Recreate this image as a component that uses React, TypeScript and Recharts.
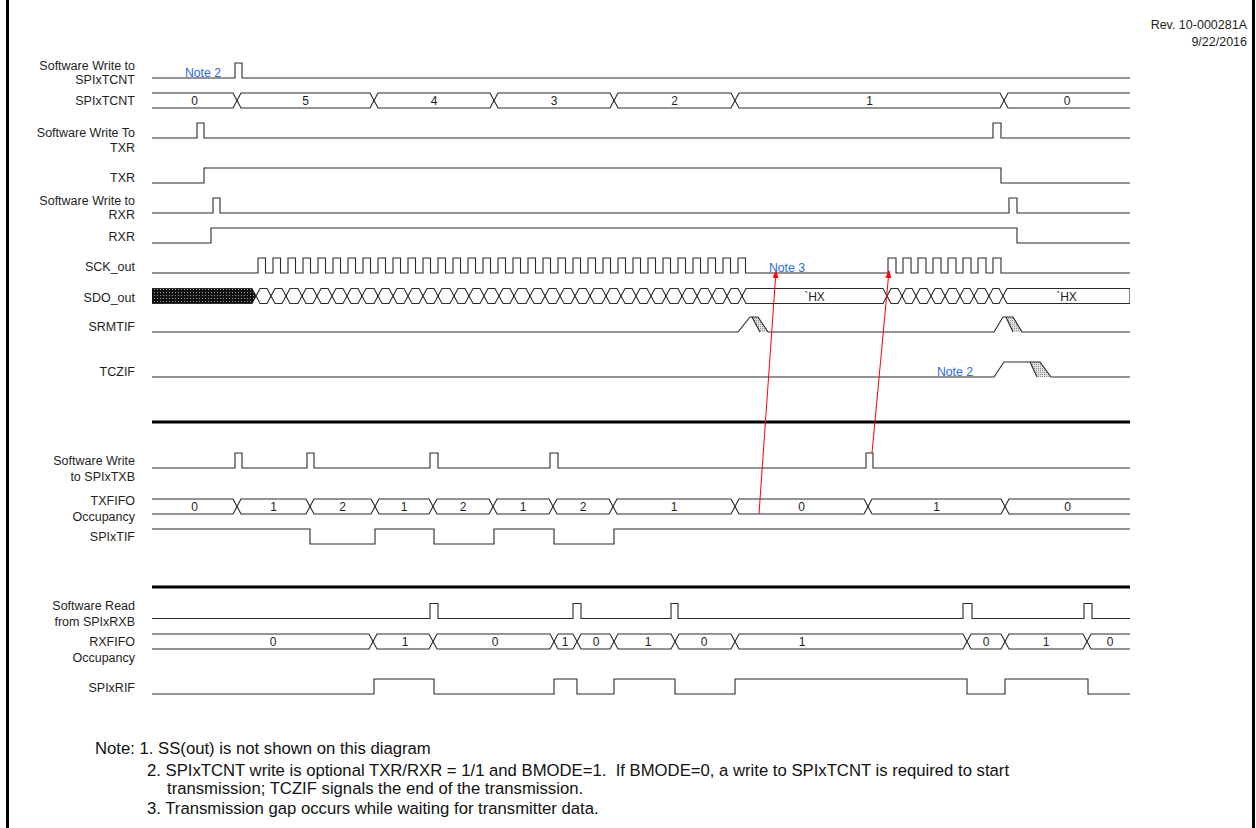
import React from "react";
import { ComposedChart, Line, Area, Scatter, XAxis, YAxis, ReferenceLine } from "recharts";

// time axis: 0 .. END (waveform window)
const END = 978;

// ---- upper panel: level changes [time, level] ----
const wrTcntLevels = [[0, 0], [83, 1], [90, 0]];
const tcntEdges = [85, 222, 342, 462, 583, 852];
const tcntValues = ["0", "5", "4", "3", "2", "1", "0"];
const wrTxrLevels = [[0, 0], [45, 1], [52, 0], [841, 1], [849, 0]];
const txrLevels = [[0, 0], [52, 1], [849, 0]];
const wrRxrLevels = [[0, 0], [61, 1], [68, 0], [857, 1], [865, 0]];
const rxrLevels = [[0, 0], [59, 1], [865, 0]];
const sckPulses = [
  [106, 113.5], [121, 128.5], [136, 143.5], [151, 158.5], [166, 173.5], [181, 188.5],
  [196, 203.5], [211, 218.5], [226, 233.5], [241, 248.5], [256, 263.5], [271, 278.5],
  [286, 293.5], [301, 308.5], [316, 323.5], [331, 338.5], [346, 353.5], [361, 368.5],
  [376, 383.5], [391, 398.5], [406, 413.5], [421, 428.5], [436, 443.5], [451, 458.5],
  [466, 473.5], [481, 488.5], [496, 503.5], [511, 518.5], [526, 533.5], [541, 548.5],
  [556, 563.5], [571, 578.5], [586, 593.5],
  [736, 744], [751, 759], [766, 774], [781, 789], [796, 804], [811, 819], [826, 834], [841, 849],
];
const sdoEdges = [
  104, 119, 134, 150, 165, 180, 195, 210, 226, 241, 256, 271, 286, 302, 317, 332, 347,
  362, 378, 393, 408, 423, 438, 454, 469, 484, 499, 514, 530, 545, 560, 575, 590,
  735, 750, 764, 779, 793, 808, 822, 837, 851,
];
const sdoIdle = [[590, 735], [851, END]];
const sdoIdleText = "`HX";
const srmtifFlags = [
  { rise: [586, 598], fall: [606, 616], hatch: [600, 608] },
  { rise: [842, 851], fall: [861, 870], hatch: [854, 861] },
];
const tczifFlags = [{ rise: [842, 852], fall: [888, 899], hatch: [878, 885] }];

// ---- TX FIFO panel ----
const wrTxbLevels = [[0, 0], [83, 1], [90, 0], [155, 1], [162, 0], [278, 1], [286, 0], [398, 1], [406, 0], [714, 1], [721, 0]];
const txfifoEdges = [85, 158, 223, 281, 341, 401, 461, 583, 716, 853];
const txfifoValues = ["0", "1", "2", "1", "2", "1", "2", "1", "0", "1", "0"];
const spixtifLevels = [[0, 1], [158, 0], [223, 1], [282, 0], [342, 1], [402, 0], [462, 1]];

// ---- RX FIFO panel ----
const rdRxbLevels = [[0, 0], [278, 1], [286, 0], [421, 1], [429, 0], [519, 1], [526, 0], [811, 1], [820, 0], [932, 1], [940, 0]];
const rxfifoEdges = [221, 281, 402, 425, 462, 523, 583, 815, 853, 935];
const rxfifoValues = ["0", "1", "0", "1", "0", "1", "0", "1", "0", "1", "0"];
const rxfifoLabelTimes = [121, 253, 343, 413, 444, 496, 552, 650, 834, 894, 958];
const spixrifLevels = [[0, 0], [222, 1], [282, 0], [402, 1], [425, 0], [462, 1], [523, 0], [583, 1], [815, 0], [853, 1], [936, 0]];

// arrows (causality) [from, to] as [time, row y]
const arrows = [
  [[607, 514], [624, 271]],
  [[720, 453], [737, 271]],
];

// ---- layout ----
const AMP = 15;
const HALF = 7.5;
const D = 4;
const rows = {
  wrTcnt: 78, tcnt: 100.5, wrTxr: 138, txr: 183, wrRxr: 213, rxr: 243, sck: 273, sdo: 296,
  srmtif: 332, tczif: 377, wrTxb: 468, txfifo: 506.5, spixtif: 544, rdRxb: 618.5, rxfifo: 641.5, spixrif: 694,
};
const rowLabels = [
  { lines: ["Software Write to", "SPIxTCNT"], ly: 65, gap: 14.5 },
  { lines: ["SPIxTCNT"], ly: 100.5, gap: 0 },
  { lines: ["Software Write To", "TXR"], ly: 132.5, gap: 15 },
  { lines: ["TXR"], ly: 177, gap: 0 },
  { lines: ["Software Write to", "RXR"], ly: 200, gap: 14.5 },
  { lines: ["RXR"], ly: 236, gap: 0 },
  { lines: ["SCK_out"], ly: 266.5, gap: 0 },
  { lines: ["SDO_out"], ly: 297, gap: 0 },
  { lines: ["SRMTIF"], ly: 326.5, gap: 0 },
  { lines: ["TCZIF"], ly: 371.5, gap: 0 },
  { lines: ["Software Write", "to SPIxTXB"], ly: 460.5, gap: 16 },
  { lines: ["TXFIFO", "Occupancy"], ly: 500.5, gap: 15.5 },
  { lines: ["SPIxTIF"], ly: 536, gap: 0 },
  { lines: ["Software Read", "from SPIxRXB"], ly: 605, gap: 16 },
  { lines: ["RXFIFO", "Occupancy"], ly: 641.5, gap: 16 },
  { lines: ["SPIxRIF"], ly: 687.5, gap: 0 },
];
const notes = [
  { t: 51, y: 73, label: "Note 2" },
  { t: 635, y: 268, label: "Note 3" },
  { t: 803, y: 372, label: "Note 2" },
];
const separators = [422, 587];

const FONT = "'Liberation Sans', Arial, Helvetica, sans-serif";
const INK = "#2a2a2a";

type Pt = { t: number; y: number };

const levelLine = (levels: number[][], base: number): Pt[] => {
  const pts = levels.map(([t, l]) => ({ t, y: base - l * AMP }));
  pts.push({ t: END, y: pts[pts.length - 1].y });
  return pts;
};

const pulsesToLevels = (pulses: number[][]) => {
  const out: number[][] = [[0, 0]];
  pulses.forEach(([r, f]) => out.push([r, 1], [f, 0]));
  return out;
};

const busLines = (edges: number[], mid: number, close = false): Pt[][] => {
  const top = mid - HALF;
  const bot = mid + HALF;
  const a: Pt[] = [{ t: 0, y: top }];
  const b: Pt[] = [{ t: 0, y: bot }];
  let up = true;
  edges.forEach((e) => {
    const ya = up ? top : bot;
    const yb = up ? bot : top;
    a.push({ t: e - D, y: ya }, { t: e + D, y: yb });
    b.push({ t: e - D, y: yb }, { t: e + D, y: ya });
    up = !up;
  });
  const ya = up ? top : bot;
  const yb = up ? bot : top;
  a.push({ t: END, y: ya });
  b.push({ t: END, y: yb });
  if (close) a.push({ t: END, y: yb });
  return [a, b];
};

const busLabels = (edges: number[], values: string[], mid: number, times?: number[]) => {
  const bounds = [0, ...edges, END];
  return values.map((label, i) => ({
    t: times ? times[i] : (bounds[i] + bounds[i + 1]) / 2,
    y: mid,
    label,
  }));
};

const flagOutline = (flags: typeof srmtifFlags, base: number): Pt[] => {
  const hi = base - AMP;
  const pts: Pt[] = [{ t: 0, y: base }];
  flags.forEach((f) => {
    pts.push({ t: f.rise[0], y: base }, { t: f.rise[1], y: hi }, { t: f.fall[0], y: hi }, { t: f.fall[1], y: base });
  });
  pts.push({ t: END, y: base });
  return pts;
};

const interp = (poly: number[][], t: number) => {
  for (let i = 0; i < poly.length - 1; i++) {
    const [t0, y0] = poly[i];
    const [t1, y1] = poly[i + 1];
    if (t >= t0 && t <= t1) return t1 === t0 ? y1 : y0 + ((t - t0) / (t1 - t0)) * (y1 - y0);
  }
  return poly[poly.length - 1][1];
};

const flagHatch = (f: (typeof srmtifFlags)[number], base: number) => {
  const hi = base - AMP;
  const upper = [[f.hatch[0], hi], [f.fall[0], hi], [f.fall[1], base]];
  const lower = [[f.hatch[0], hi], [f.hatch[1], base], [f.fall[1], base]];
  const ts = Array.from(new Set([f.hatch[0], f.fall[0], f.hatch[1], f.fall[1]])).sort((p, q) => p - q);
  return ts.map((t) => ({ t, r: [interp(lower, t), interp(upper, t)] }));
};

const RowTick = (props: any) => {
  const { x, y, payload } = props;
  const row = rowLabels.find((r) => r.ly === payload.value);
  if (!row) return null;
  return (
    <text x={x} y={y} textAnchor="end" fontSize={12.5} fontFamily={FONT} fill="#1e1e1e">
      {row.lines.map((l, i) => (
        <tspan key={i} x={x} dy={i === 0 ? "0.36em" : row.gap}>
          {l}
        </tspan>
      ))}
    </text>
  );
};

const textShape = (color: string, size: number) => (props: any) => {
  const { cx, cy, payload } = props;
  return (
    <text x={cx} y={cy} dy="0.36em" textAnchor="middle" fontSize={size} fontFamily={FONT} fill={color}>
      {payload.label}
    </text>
  );
};

const sig = (key: string, data: Pt[], type: "stepAfter" | "linear" = "stepAfter", extra: any = {}) => (
  <Line
    key={key}
    data={data}
    dataKey="y"
    type={type}
    stroke={INK}
    strokeWidth={1.1}
    dot={false}
    activeDot={false}
    isAnimationActive={false}
    {...extra}
  />
);

const App = () => {
  const tcnt = busLines(tcntEdges, rows.tcnt);
  const sdo = busLines(sdoEdges, rows.sdo, true);
  const txfifo = busLines(txfifoEdges, rows.txfifo);
  const rxfifo = busLines(rxfifoEdges, rows.rxfifo);
  const sdoTop = rows.sdo - HALF;
  const sdoBot = rows.sdo + HALF;
  const sdoFill = [
    { t: 0, r: [sdoBot, sdoTop] },
    { t: sdoEdges[0] - D, r: [sdoBot, sdoTop] },
    { t: sdoEdges[0], r: [rows.sdo, rows.sdo] },
  ];
  const labels = [
    ...busLabels(tcntEdges, tcntValues, rows.tcnt),
    ...busLabels(txfifoEdges, txfifoValues, rows.txfifo),
    ...busLabels(rxfifoEdges, rxfifoValues, rows.rxfifo, rxfifoLabelTimes),
    ...sdoIdle.map(([a, b]) => ({ t: (a + b) / 2, y: rows.sdo + 1, label: sdoIdleText })),
  ];
  const flags = [
    ...srmtifFlags.map((f) => ({ f, base: rows.srmtif })),
    ...tczifFlags.map((f) => ({ f, base: rows.tczif })),
  ];

  return (
    <div style={{ position: "absolute", left: 0, top: 0, width: 1256, height: 828, background: "#fff", overflow: "hidden" }}>
      <div style={{ position: "absolute", left: 6, top: 0, width: 2.5, height: 828, background: "#000" }} />
      <div style={{ position: "absolute", left: 1252, top: 0, width: 3, height: 828, background: "#000" }} />
      <div style={{ position: "absolute", right: 9, top: 17, textAlign: "right", fontFamily: FONT, fontSize: 12.5, lineHeight: "17px", color: "#1e1e1e" }}>
        Rev. 10-000281A
        <br />
        9/22/2016
      </div>
      <ComposedChart width={1256} height={828} margin={{ top: 0, right: 126, bottom: 0, left: 0 }}>
        <defs>
          <pattern id="sdoHatch" width="3" height="3" patternUnits="userSpaceOnUse">
            <rect width="3" height="3" fill="#111" />
            <rect x="1" y="1" width="1" height="1" fill="#9a9a9a" />
          </pattern>
          <pattern id="flagHatch" width="2" height="2" patternUnits="userSpaceOnUse">
            <rect width="2" height="2" fill="#e2e2e2" />
            <rect width="1" height="1" fill="#8a8a8a" />
          </pattern>
          <marker id="arrowHead" markerWidth="8" markerHeight="6" refX="7" refY="3" orient="auto" markerUnits="userSpaceOnUse">
            <path d="M0,0 L8,3 L0,6 Z" fill="#ff0000" />
          </marker>
        </defs>
        <XAxis type="number" dataKey="t" domain={[0, END]} hide allowDataOverflow />
        <YAxis
          type="number"
          dataKey="y"
          domain={[0, 828]}
          reversed
          width={152}
          ticks={rowLabels.map((r) => r.ly)}
          interval={0}
          axisLine={false}
          tickLine={false}
          tickSize={0}
          tickMargin={17}
          tick={<RowTick />}
          allowDataOverflow
        />

        {/* hatched fills */}
        <Area data={sdoFill} dataKey="r" type="linear" fill="url(#sdoHatch)" fillOpacity={1} stroke="none" isAnimationActive={false} dot={false} activeDot={false} />
        {flags.map(({ f, base }, i) => (
          <Area key={"fh" + i} data={flagHatch(f, base)} dataKey="r" type="linear" fill="url(#flagHatch)" fillOpacity={1} stroke="none" isAnimationActive={false} dot={false} activeDot={false} />
        ))}

        {sig("wrTcnt", levelLine(wrTcntLevels, rows.wrTcnt))}
        {sig("tcntA", tcnt[0], "linear")}
        {sig("tcntB", tcnt[1], "linear")}
        {sig("wrTxr", levelLine(wrTxrLevels, rows.wrTxr))}
        {sig("txr", levelLine(txrLevels, rows.txr))}
        {sig("wrRxr", levelLine(wrRxrLevels, rows.wrRxr))}
        {sig("rxr", levelLine(rxrLevels, rows.rxr))}
        {sig("sck", levelLine(pulsesToLevels(sckPulses), rows.sck))}
        {sig("sdoA", sdo[0], "linear")}
        {sig("sdoB", sdo[1], "linear")}
        {sig("srmtif", flagOutline(srmtifFlags, rows.srmtif), "linear")}
        {sig("tczif", flagOutline(tczifFlags, rows.tczif), "linear")}
        {flags.map(({ f, base }, i) =>
          sig("fe" + i, [{ t: f.hatch[0], y: base - AMP }, { t: f.hatch[1], y: base }], "linear")
        )}

        {sig("wrTxb", levelLine(wrTxbLevels, rows.wrTxb))}
        {sig("txfA", txfifo[0], "linear")}
        {sig("txfB", txfifo[1], "linear")}
        {sig("spixtif", levelLine(spixtifLevels, rows.spixtif))}

        {sig("rdRxb", levelLine(rdRxbLevels, rows.rdRxb))}
        {sig("rxfA", rxfifo[0], "linear")}
        {sig("rxfB", rxfifo[1], "linear")}
        {sig("spixrif", levelLine(spixrifLevels, rows.spixrif))}

        {separators.map((y) => (
          <ReferenceLine key={"sep" + y} y={y} stroke="#000" strokeWidth={3} />
        ))}

        {arrows.map(([a, b], i) =>
          sig("arrow" + i, [{ t: a[0], y: a[1] }, { t: b[0], y: b[1] }], "linear", { stroke: "#ff0000", strokeWidth: 1, markerEnd: "url(#arrowHead)" })
        )}

        <Scatter data={labels} shape={textShape("#1e1e1e", 12)} isAnimationActive={false} />
        <Scatter data={notes} shape={textShape("#2b6cf0", 12.3)} isAnimationActive={false} />
      </ComposedChart>

      <div style={{ position: "absolute", left: 0, top: 0, fontFamily: "'Liberation Sans Narrow', 'Arial Narrow', 'Liberation Sans', sans-serif", fontSize: 16.7, color: "#111", whiteSpace: "pre" }}>
        <div style={{ position: "absolute", left: 95, top: 739 }}>Note: 1. SS(out) is not shown on this diagram</div>
        <div style={{ position: "absolute", left: 147, top: 761 }}>
          2. SPIxTCNT write is optional TXR/RXR = 1/1 and BMODE=1.  If BMODE=0, a write to SPIxTCNT is required to start
        </div>
        <div style={{ position: "absolute", left: 167, top: 779 }}>transmission; TCZIF signals the end of the transmission.</div>
        <div style={{ position: "absolute", left: 147, top: 799 }}>3. Transmission gap occurs while waiting for transmitter data.</div>
      </div>
    </div>
  );
};

export default App;
